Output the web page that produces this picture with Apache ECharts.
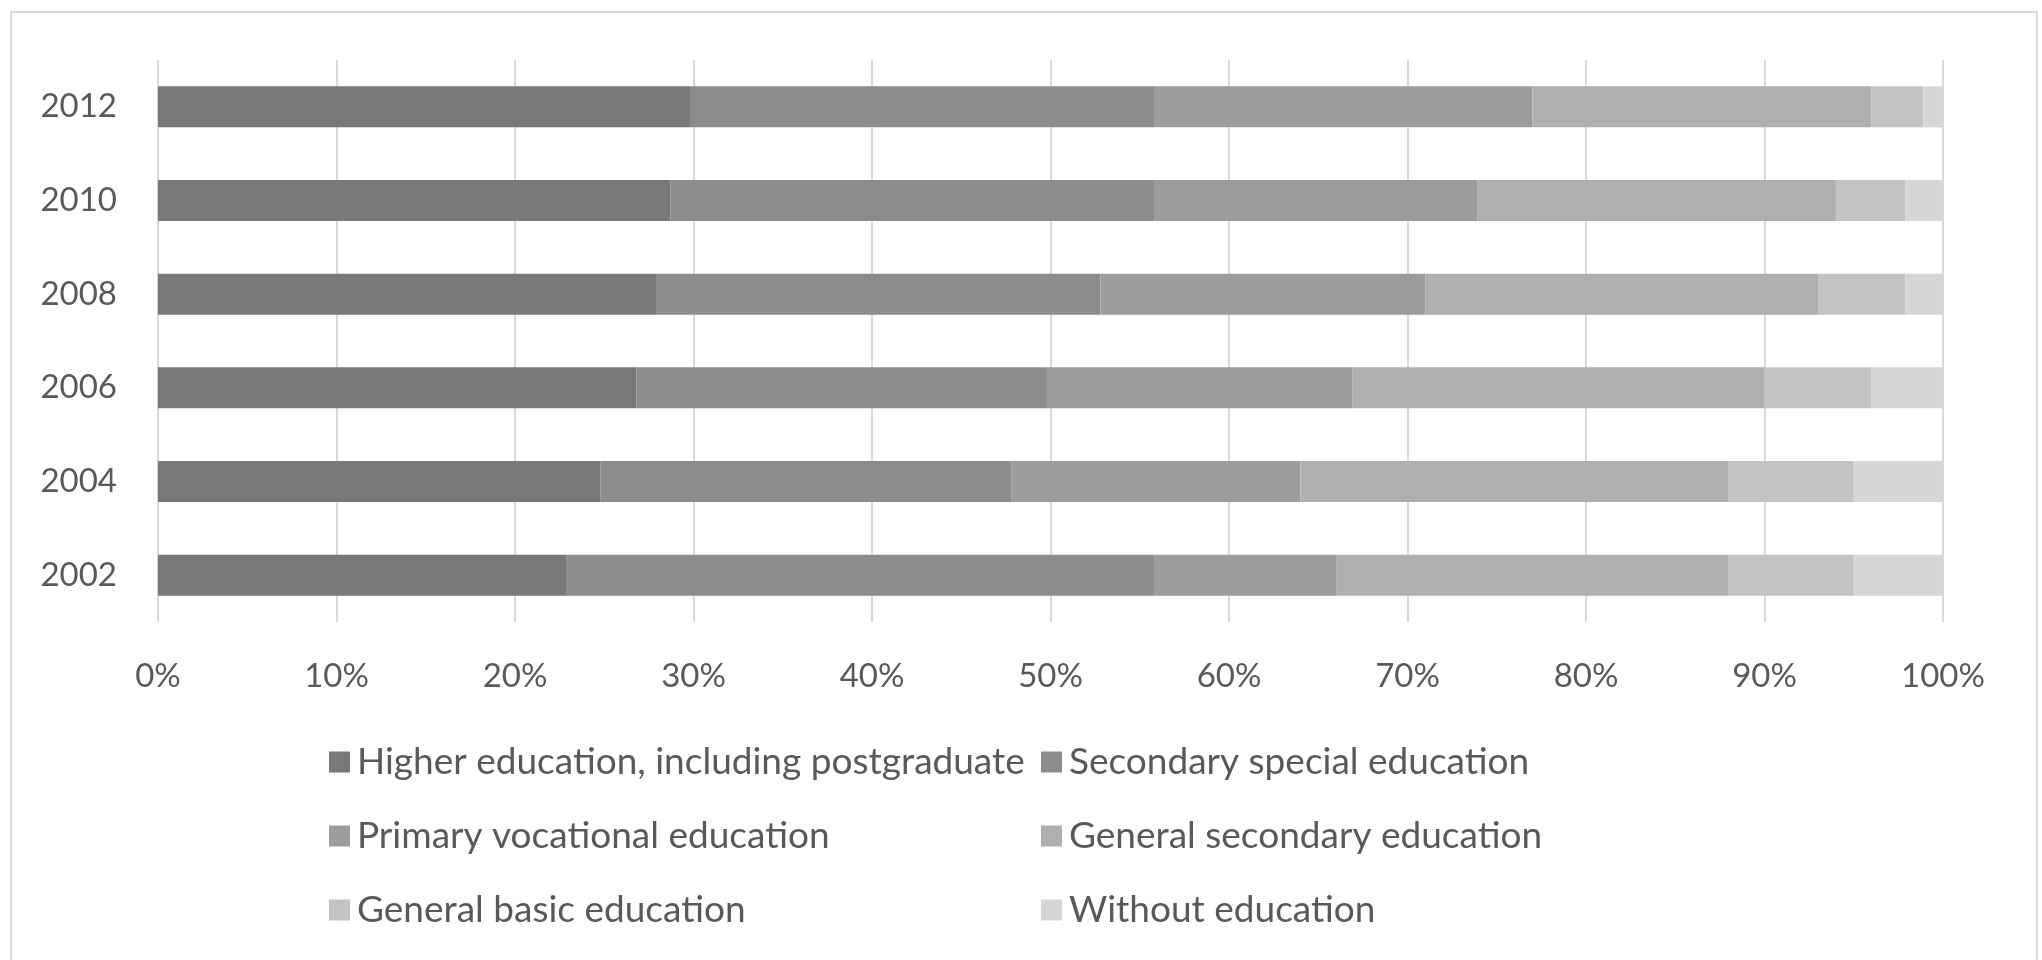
<!DOCTYPE html>
<html>
<head>
<meta charset="utf-8">
<title>Education structure</title>
<script src="https://cdn.jsdelivr.net/npm/echarts@6/dist/echarts.min.js"></script>
<style>
  html, body { margin: 0; padding: 0; background: #fff; }
  #chart { width: 2042px; height: 960px; }
</style>
</head>
<body>
<div id="chart"></div>
<script>
// 数据: 各年份受教育程度结构 (%)
const years = ['2002', '2004', '2006', '2008', '2010', '2012'];
const higher = [22.9, 24.8, 26.8, 27.9, 28.7, 29.8];
const secondarySpecial = [32.9, 23.0, 23.0, 24.9, 27.1, 26.0];
const primaryVocational = [10.2, 16.2, 17.1, 18.2, 18.1, 21.2];
const generalSecondary = [22.0, 24.0, 23.1, 22.0, 20.1, 19.0];
const generalBasic = [7.0, 7.0, 6.0, 4.9, 3.9, 2.9];
const withoutEducation = [5.0, 5.0, 4.0, 2.1, 2.1, 1.1];
const xTicks = [0, 10, 20, 30, 40, 50, 60, 70, 80, 90, 100];

const seriesNames = [
  'Higher education, including postgraduate',
  'Secondary special education',
  'Primary vocational education',
  'General secondary education',
  'General basic education',
  'Without education'
];
const seriesValues = [higher, secondarySpecial, primaryVocational, generalSecondary, generalBasic, withoutEducation];
const colors = ['#787878', '#8c8c8c', '#9c9c9c', '#afafaf', '#c3c3c3', '#d6d6d6'];

const fontFamily = 'Lato, "Liberation Sans", sans-serif';
const textColor = '#595959';

const legendBase = {
  orient: 'vertical',
  top: 737,
  itemWidth: 21,
  itemHeight: 21,
  itemGap: 34,
  icon: 'rect',
  selectedMode: false,
  textStyle: { color: textColor, fontSize: 37, fontFamily: fontFamily, lineHeight: 40, padding: [0, 0, 0, 2] }
};

const chart = echarts.init(document.getElementById('chart'));
chart.setOption({
  animation: false,
  color: colors,
  grid: { left: 158, right: 99, top: 60, bottom: 338 },
  legend: [
    Object.assign({}, legendBase, { left: 324, data: [seriesNames[0], seriesNames[2], seriesNames[4]] }),
    Object.assign({}, legendBase, { left: 1036, data: [seriesNames[1], seriesNames[3], seriesNames[5]] })
  ],
  xAxis: {
    type: 'value',
    min: xTicks[0],
    max: xTicks[xTicks.length - 1],
    interval: xTicks[1] - xTicks[0],
    axisLine: { show: false },
    axisTick: { show: false },
    splitLine: { lineStyle: { color: '#d9d9d9', width: 2 } },
    axisLabel: { color: textColor, fontSize: 33, fontFamily: fontFamily, margin: 38, formatter: '{value}%' }
  },
  yAxis: {
    type: 'category',
    data: years,
    axisLine: { show: false },
    axisTick: { show: false },
    axisLabel: { color: textColor, fontSize: 33, fontFamily: fontFamily, margin: 41 }
  },
  series: seriesNames.map(function (name, i) {
    return {
      name: name,
      type: 'bar',
      stack: 'total',
      barWidth: 41,
      data: seriesValues[i]
    };
  }),
  graphic: [{
    type: 'rect',
    shape: { x: 11, y: 12, width: 2026, height: 960 },
    style: { fill: null, stroke: '#d9d9d9', lineWidth: 2 },
    silent: true
  }]
});
</script>
</body>
</html>
